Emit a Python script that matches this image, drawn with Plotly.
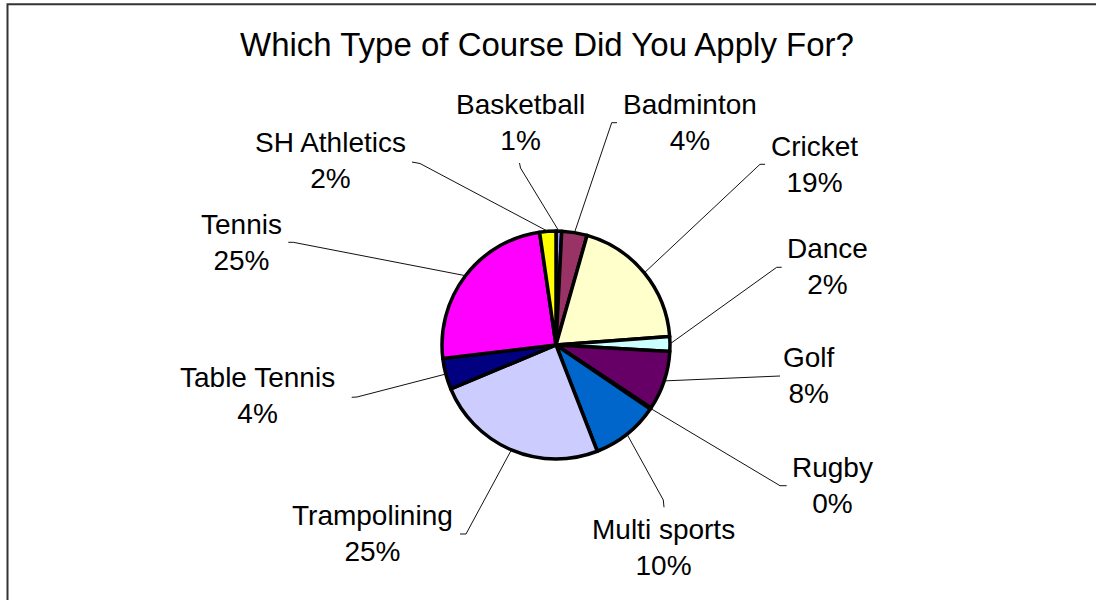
import math
import plotly.graph_objects as go

# ---- data (share in percent) ----
categories = ["Basketball", "Badminton", "Cricket", "Dance", "Golf", "Rugby",
              "Multi sports", "Trampolining", "Table Tennis", "Tennis", "SH Athletics"]
values = [0.8, 3.6, 19.4, 2.1, 8.4, 0.2, 9.6, 24.6, 4.4, 24.6, 2.3]
colors = ["#9999FF", "#993366", "#FFFFCC", "#CCFFFF", "#660066", "#FF8080",
          "#0066CC", "#CCCCFF", "#000080", "#FF00FF", "#FFFF00"]

# ---- layout / style (pixels) ----
W, H = 1096, 600
CX, CY, R = 556, 345, 114
FONT = "Liberation Sans, Arial, sans-serif"

# label block centres (pixels) and leader-line start points near each label
label_pos = {
    "Basketball": (520.5, 122.5), "Badminton": (689.5, 122.5), "Cricket": (814, 164.5),
    "Dance": (827.5, 266.5), "Golf": (809, 375.5), "Rugby": (832, 485.5),
    "Multi sports": (663, 547.5), "Trampolining": (372.5, 533.5),
    "Table Tennis": (257.5, 395.5), "Tennis": (241, 242.5), "SH Athletics": (330, 160.5),
}
leader_start = {
    "Basketball": [(519.5, 163), (520.5, 168)], "Badminton": [(617, 122.7), (611.7, 122.7)],
    "Cricket": [(765, 164.3), (760, 164.3)], "Dance": [(781.7, 267.3), (776.7, 267.3)],
    "Golf": [(780, 376)], "Rugby": [(786.7, 485.7), (780, 485.7)],
    "Multi sports": [(664, 507.3), (663.3, 500)], "Trampolining": [(460, 534), (466, 534)],
    "Table Tennis": [(351.7, 397.3), (357, 397)], "Tennis": [(288.3, 242.3), (293.3, 242.3)],
    "SH Athletics": [(412, 162), (420, 163.5)],
}


def px(x):
    return x / W


def py(y):
    return 1 - y / H


fig = go.Figure()
fig.add_trace(go.Pie(
    labels=categories, values=values, sort=False, direction="clockwise", rotation=0,
    marker=dict(colors=colors, line=dict(color="black", width=3.5)),
    textinfo="none", hoverinfo="label+percent", showlegend=False,
    domain=dict(x=[px(CX - R), px(CX + R)], y=[py(CY + R), py(CY - R)]),
))

total = sum(values)
shapes = []
annotations = []
cum = 0.0
for cat, v in zip(categories, values):
    mid = (cum + v / 2) / total * 2 * math.pi
    cum += v
    ex, ey = CX + R * math.sin(mid), CY - R * math.cos(mid)
    pts = leader_start[cat] + [(ex, ey)]
    path = "M " + " L ".join(f"{px(x):.5f},{py(y):.5f}" for x, y in pts)
    shapes.append(dict(type="path", path=path, xref="paper", yref="paper",
                       line=dict(color="#111111", width=1)))
    lx, ly = label_pos[cat]
    pct = round(v / total * 100)
    annotations.append(dict(text=f"{cat}<br>{pct}%", x=px(lx), y=py(ly), xref="paper", yref="paper",
                            xanchor="center", yanchor="middle", showarrow=False,
                            font=dict(family=FONT, size=28, color="black")))

# chart border (cropped at right / bottom)
shapes.append(dict(type="rect", xref="paper", yref="paper", x0=px(7.5), x1=1.05, y0=-0.05, y1=py(4.2),
                   line=dict(color="#333333", width=2), fillcolor="rgba(0,0,0,0)"))

annotations.append(dict(text="Which Type of Course Did You Apply For?", x=px(547), y=py(45),
                        xref="paper", yref="paper", xanchor="center", yanchor="middle", showarrow=False,
                        font=dict(family=FONT, size=33, color="black")))

fig.update_layout(
    width=W, height=H, margin=dict(l=0, r=0, t=0, b=0),
    paper_bgcolor="white", plot_bgcolor="white",
    shapes=shapes, annotations=annotations,
)

fig.write_html("out.html")
